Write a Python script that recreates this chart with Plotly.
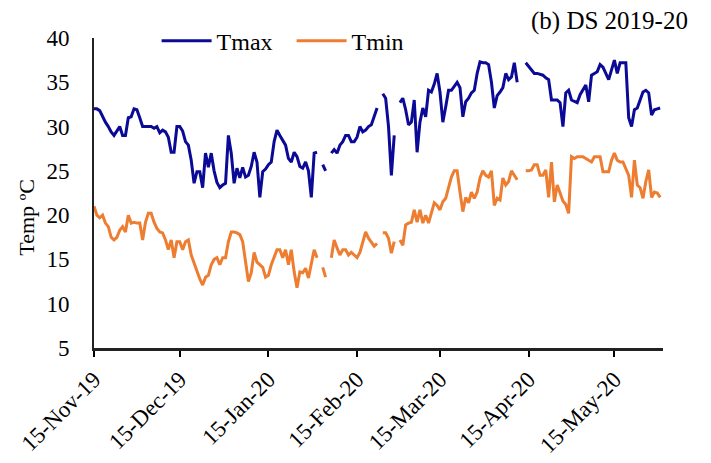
import pandas as pd
import plotly.graph_objects as go

start_date = "2019-11-15"
n_days = 199
dates = pd.date_range(start_date, periods=n_days, freq="D")

N = None
tmax = [
    32, 32, 31.8, 31.1, 30.5, 30, 29.4, 29, 29.5, 30,            # d0-9
    29, 29, 31, 31.1, 32, 31.9, 31, 30, 30, 30,                   # d10-19
    30, 29.8, 30, 29.3, 29.6, 29.4, 28.8, 27.1, 27.1, 30,         # d20-29
    30, 29.5, 28.3, 27.9, 26.2, 23.6, 24.9, 24.9, 23.1, 27,       # d30-39
    25.4, 27, 25, 23.7, 23.1, 23.4, 23.6, 29, 27, 23.6,           # d40-49
    25.3, 24.2, 25.4, 24.3, 24.5, 25.5, 27.1, 26, 22, 24.9,       # d50-59
    25.2, 25.7, 26, 28.3, 29.6, 29, 28.5, 27.9, 26.4, 26,         # d60-69
    27.1, 26.6, 25.5, 25.3, 26, 25, 22, 27, 27.1, N,              # d70-79
    25.7, 25, N, 27, 27.4, 27, 27.9, 28.3, 29, 29,                # d80-89
    28.3, 28.3, 28.8, 30, 29.4, 29.6, 30, 30.2, 31.3, 32.1,       # d90-99
    N, 33.7, 33.2, 30, 24.5, 29, N, 32.7, 33.2, 31.9,             # d100-109
    30.2, 30.5, 33, 27.1, 30.5, 32.1, 31.1, 34.1, 33.9, 34.8,     # d110-119
    36, 33.9, 30.5, 32.2, 34.1, 34.1, 34.6, 35, 34.4, 31.1,       # d120-129
    32.8, 33.2, 33.8, 34.1, 36, 37.3, 37.2, 37.2, 37, 35,         # d130-139
    32.1, 33.5, 33.9, 34.4, 36, 35.3, 35.6, 37.2, 35, N,          # d140-149
    N, 37.2, 36.8, 36.5, 36, 36, 35.9, 35.8, 35.5, 35.3,          # d150-159
    33, 33, 33, 32.7, 30, 33.8, 34.1, 33, 32.8, 32.7,             # d160-169
    33.6, 34.1, 34.7, 32.8, 35.8, 36, 36.2, 37, 36.7, 36,         # d170-179
    35.3, 36.4, 37.5, 36, 37.2, 37.2, 37.2, 31, 30, 31.9,         # d180-189
    32.1, 33, 33.9, 34.1, 33.8, 31.3, 31.9, 32, 32.1,             # d190-198
]
tmin = [
    21, 20, 19.7, 20, 19.1, 18.7, 17.5, 17.2, 17.5, 18.3,         # d0-9
    18.7, 18.1, 20, 19.1, 19.2, 19.1, 19.1, 17.2, 19.2, 20.2,     # d10-19
    20.2, 19.2, 18.5, 18.1, 18, 17.2, 16.1, 17.2, 15.2, 17,       # d20-29
    17, 16.1, 17, 17.2, 15.5, 14.6, 13.5, 12.8, 12.1, 13,         # d30-39
    13.2, 14.4, 15, 15.2, 14.4, 15.2, 15.2, 17, 18.1, 18.1,       # d40-49
    18, 17.8, 17, 15, 12.5, 13.5, 15.8, 14.7, 14.4, 14.1,         # d50-59
    13, 13.2, 14.4, 15.2, 16.1, 16.1, 15.2, 16.1, 14.4, 16.1,     # d60-69
    13.6, 11.8, 13.6, 13.5, 14, 12.9, 14.7, 16.1, 15.2, N,        # d70-79
    14.1, 13, N, 15.2, 17.2, 16.3, 15.5, 16.1, 16.1, 15.5,        # d80-89
    15.8, 15.5, 15.2, 15.8, 17, 18.1, 17.4, 17, 16.5, 16.8,       # d90-99
    N, 18, 18, 17.4, 15.7, 17, N, 17.2, 16.6, 18.9,               # d100-109
    19.1, 19.2, 20.6, 19.2, 20.6, 19.1, 20, 19.1, 20.4, 21.4,     # d110-119
    21.1, 20.6, 21.5, 21.9, 23.1, 24.3, 25, 25, 22.6, 20.4,       # d120-129
    22, 21.4, 22.6, 21.9, 22.6, 24.2, 25, 24.5, 24.3, 25,         # d130-139
    21.1, 21.9, 21.7, 24.2, 23.4, 23.8, 25, 24.5, 24, N,          # d140-149
    N, 25, 25, 25.1, 25.7, 25.7, 24.5, 24.5, 25.1, 22,            # d150-159
    26, 21.5, 23.4, 22.5, 21.6, 21.2, 20.2, 26.6, 26.4, 26.6,     # d160-169
    26.6, 26.6, 26.4, 26.2, 26, 26.6, 26.6, 26.6, 24.9, 24.9,     # d170-179
    24.9, 26.2, 27, 26.2, 26, 26, 25.3, 24.5, 22, 26.2,           # d180-189
    23.4, 23.1, 21.9, 23.8, 25.1, 22, 22.6, 22.5, 22,             # d190-198
]

tick_dates = ["2019-11-15", "2019-12-15", "2020-01-15", "2020-02-15",
              "2020-03-15", "2020-04-15", "2020-05-15"]
y_ticks = [5, 10, 15, 20, 25, 30, 35, 40]

serif = "Liberation Serif, Times New Roman, serif"

fig = go.Figure()
fig.add_trace(go.Scatter(x=dates, y=tmax, mode="lines", name="Tmax",
                         line=dict(color="#0a0a96", width=3), connectgaps=False))
fig.add_trace(go.Scatter(x=dates, y=tmin, mode="lines", name="Tmin",
                         line=dict(color="#ed7d31", width=3), connectgaps=False))

fig.update_layout(
    width=711, height=463,
    margin=dict(l=86, r=56, t=30, b=123, autoexpand=False),
    paper_bgcolor="white", plot_bgcolor="white",
    font=dict(family=serif, color="black", size=20),
    showlegend=True,
    legend=dict(orientation="h", x=0.11, xanchor="left", y=0.99, yanchor="middle",
                bgcolor="rgba(0,0,0,0)", font=dict(size=24), itemwidth=50,
                entrywidth=70, entrywidthmode="pixels", tracegroupgap=0),
    annotations=[
        dict(text="(b) DS 2019-20", x=1.047, xref="paper", xanchor="right",
             y=1.055, yref="paper", yanchor="middle", showarrow=False,
             font=dict(size=25, family=serif)),
        dict(text="Temp ºC", x=-0.118, xref="paper", xanchor="center",
             y=0.423, yref="paper", yanchor="middle", showarrow=False,
             textangle=-90, font=dict(size=22, family=serif)),
    ],
)
fig.update_xaxes(
    type="date", range=["2019-11-15", "2020-06-01"], automargin=False,
    tickvals=tick_dates, tickformat="%d-%b-%y", tickangle=-45,
    ticks="outside", ticklen=6, tickwidth=2, tickcolor="black",
    showline=True, linecolor="#222", linewidth=3, showgrid=False, zeroline=False,
    tickfont=dict(size=23, family=serif),
)
fig.update_yaxes(
    range=[5, 40], tickvals=y_ticks, ticks="", showline=True, linecolor="#222",
    linewidth=2, showgrid=False, zeroline=False, automargin=False,
    tickfont=dict(size=23, family=serif), ticklabelstandoff=18,
)

fig.write_html("out.html")
